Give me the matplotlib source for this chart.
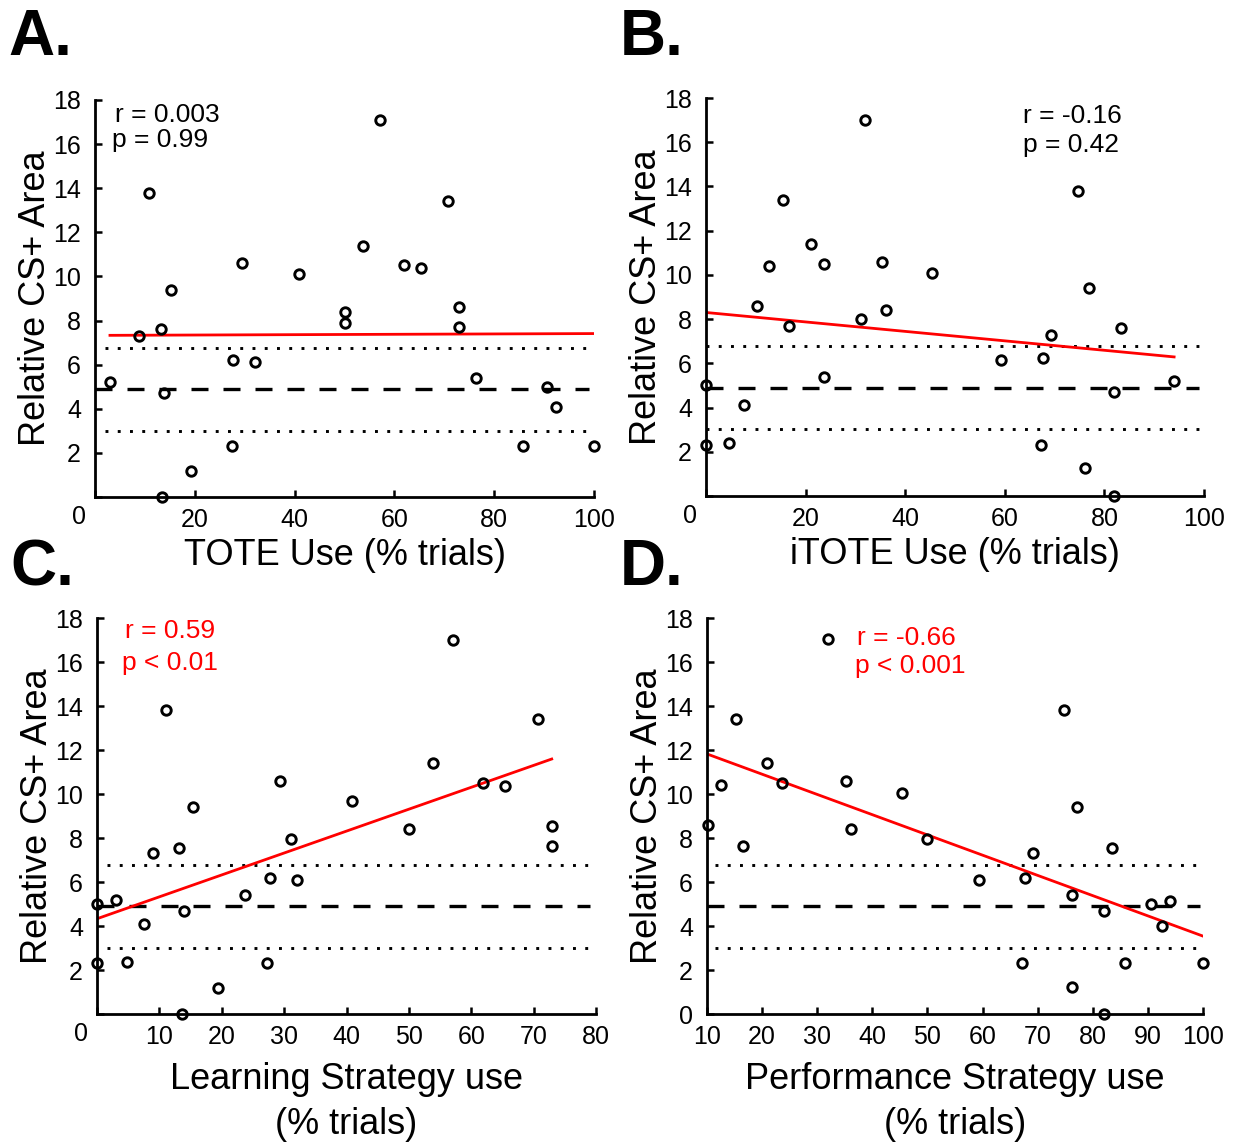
import matplotlib
matplotlib.use('Agg')
import matplotlib.pyplot as plt
import numpy as np

plt.rcParams['font.family'] = ['Liberation Sans', 'DejaVu Sans']

# A: TOTE use
tote_x = [3.0, 8.9, 10.9, 13.2, 13.8, 13.5, 15.3, 19.3, 27.4, 27.6, 29.4, 32.1, 40.9, 50.0,
          50.0, 53.8, 57.1, 61.9, 65.4, 70.7, 73.0, 73.0, 76.3, 85.8, 90.5, 92.4, 100.0]
tote_y = [5.2, 7.3, 13.8, 7.6, 4.7, 0.0, 9.4, 1.2, 2.3, 6.2, 10.6, 6.1, 10.1, 8.4,
          7.9, 11.4, 17.1, 10.5, 10.4, 13.4, 8.6, 7.7, 5.4, 2.3, 5.0, 4.1, 2.3]
tote_fit_x = [3.0, 100.0]
tote_fit_y = [7.33, 7.41]

# B: iTOTE use
itote_x = [0.0, 0.0, 4.7, 7.6, 10.2, 12.6, 15.4, 16.6, 21.1, 23.7, 23.7, 31.2, 32.0, 35.3,
           36.1, 45.4, 59.3, 67.2, 67.6, 69.2, 74.7, 76.2, 77.0, 81.9, 81.9, 83.3, 94.0]
itote_y = [5.0, 2.3, 2.4, 4.1, 8.6, 10.4, 13.4, 7.7, 11.4, 10.5, 5.4, 8.0, 17.0, 10.6,
           8.4, 10.1, 6.15, 2.3, 6.25, 7.3, 13.8, 1.25, 9.4, 0.0, 4.7, 7.6, 5.2]
itote_fit_x = [0.0, 94.0]
itote_fit_y = [8.30, 6.29]

# C: learning strategy use
learn_x = [0.0, 0.0, 3.0, 4.8, 7.6, 9.0, 11.1, 13.2, 14.0, 13.6, 15.4, 19.4, 23.8, 27.3,
           27.7, 29.4, 31.1, 32.1, 40.9, 50.0, 53.8, 57.1, 61.9, 65.4, 70.7, 72.9, 72.9]
learn_y = [5.0, 2.3, 5.2, 2.35, 4.1, 7.3, 13.8, 7.55, 4.7, 0.0, 9.4, 1.2, 5.4, 2.3,
           6.2, 10.6, 7.95, 6.1, 9.7, 8.4, 11.4, 17.0, 10.5, 10.35, 13.4, 8.55, 7.65]
learn_fit_x = [0.0, 72.9]
learn_fit_y = [4.33, 11.59]

# D: performance strategy use
perf_x = [10.2, 12.5, 15.3, 16.5, 20.8, 23.6, 32.0, 35.2, 36.1, 45.3, 49.9, 59.4, 67.2, 67.7,
          69.1, 74.7, 76.2, 76.2, 77.1, 82.0, 82.1, 83.4, 85.8, 90.5, 92.5, 94.0, 100.0]
perf_y = [8.6, 10.4, 13.4, 7.65, 11.4, 10.5, 17.05, 10.6, 8.4, 10.05, 7.95, 6.1, 2.3, 6.2,
          7.3, 13.8, 1.25, 5.4, 9.4, 0.0, 4.7, 7.55, 2.3, 5.0, 4.0, 5.15, 2.3]
perf_fit_x = [10.0, 100.0]
perf_fit_y = [11.82, 3.54]

# reference band: mean (dashed) and +/- (dotted)
ref_mean = 4.89
ref_upper = 6.77
ref_lower = 3.01

stats_r = ['r = 0.003', 'r = -0.16', 'r = 0.59', 'r = -0.66']
stats_p = ['p = 0.99', 'p = 0.42', 'p < 0.01', 'p < 0.001']
xlabels = ['TOTE Use (% trials)', 'iTOTE Use (% trials)',
           'Learning Strategy use\n(% trials)', 'Performance Strategy use\n(% trials)']
letters = ['A.', 'B.', 'C.', 'D.']

W, H = 1237, 1143
fig = plt.figure(figsize=(W / 100, H / 100), dpi=100)


def px_rect(l, t, r, b):
    return [l / W, 1 - b / H, (r - l) / W, (b - t) / H]


panels = [
    dict(rect=px_rect(95, 100, 594, 497), x=tote_x, y=tote_y, fx=tote_fit_x, fy=tote_fit_y,
         xlim=(0, 100), xticks=np.arange(0, 101, 20), dot=(2, 99), dash=(0, 99),
         rp=((0.040, 0.945), (0.034, 0.882)), col='black', y0=False, lpad=4),
    dict(rect=px_rect(706, 98, 1204, 496), x=itote_x, y=itote_y, fx=itote_fit_x, fy=itote_fit_y,
         xlim=(0, 100), xticks=np.arange(0, 101, 20), dot=(0, 99), dash=(0, 99),
         rp=((0.636, 0.937), (0.636, 0.864)), col='black', y0=False, lpad=4),
    dict(rect=px_rect(97, 618, 596, 1014), x=learn_x, y=learn_y, fx=learn_fit_x, fy=learn_fit_y,
         xlim=(0, 80), xticks=np.arange(0, 81, 10), dot=(1.6, 79), dash=(0, 79),
         rp=((0.057, 0.949), (0.051, 0.868)), col='red', y0=False, lpad=9),
    dict(rect=px_rect(707, 618, 1203, 1014), x=perf_x, y=perf_y, fx=perf_fit_x, fy=perf_fit_y,
         xlim=(10, 100), xticks=np.arange(10, 101, 10), dot=(11.5, 99), dash=(10, 99.5),
         rp=((0.303, 0.931), (0.299, 0.861)), col='red', y0=True, lpad=9),
]

tick_fs = 18
label_fs = 26

for i, p in enumerate(panels):
    ax = fig.add_axes(p['rect'])
    ax.plot(p['dot'], [ref_upper, ref_upper], color='black', lw=2.1, ls=(0, (1, 3.2)))
    ax.plot(p['dot'], [ref_lower, ref_lower], color='black', lw=2.1, ls=(0, (1, 3.2)))
    ax.plot(p['dash'], [ref_mean, ref_mean], color='black', lw=2.4, ls=(0, (5.1, 4.5)))
    ax.plot(p['fx'], p['fy'], color='red', lw=2)
    ax.plot(p['x'], p['y'], 'o', mfc='none', mec='black', ms=6.8, mew=2.1, clip_on=False, zorder=5)

    ax.set_xlim(*p['xlim'])
    ax.set_ylim(0, 18)
    ax.set_xticks(p['xticks'])
    xt = [str(int(v)) for v in p['xticks']]
    if p['xlim'][0] == 0:
        # the "0" sits a little left of the axis corner
        xt[0] = ''
        ax.annotate('0', xy=(0, 0), xycoords='axes fraction', xytext=(-16, -8),
                    textcoords='offset pixels', ha='center', va='top', fontsize=tick_fs)
    ax.set_xticklabels(xt)
    yt = np.arange(0, 19, 2)
    ax.set_yticks(yt)
    ax.set_yticklabels([str(v) if (v > 0 or p['y0']) else '' for v in yt])

    for s in ['top', 'right']:
        ax.spines[s].set_visible(False)
    for s in ['left', 'bottom']:
        ax.spines[s].set_linewidth(2)
    ax.tick_params(direction='in', length=5, width=1.8, labelsize=tick_fs)
    ax.tick_params(axis='x', pad=8)
    ax.tick_params(axis='y', pad=10)

    ax.set_xlabel(xlabels[i], fontsize=label_fs, labelpad=p['lpad'], linespacing=1.38)
    ax.set_ylabel('Relative CS+ Area', fontsize=label_fs)
    ax.yaxis.set_label_coords(-0.085, 0.5)

    (rx, ry), (px_, py) = p['rp']
    ax.text(rx, ry, stats_r[i], transform=ax.transAxes, fontsize=19, color=p['col'], va='baseline')
    ax.text(px_, py, stats_p[i], transform=ax.transAxes, fontsize=19, color=p['col'], va='baseline')

letter_pos = [(8, 55), (620, 55), (10, 585), (620, 585)]
for lt, (lx, ly) in zip(letters, letter_pos):
    fig.text(lx / W, 1 - ly / H, lt, fontsize=46, fontweight='bold', va='baseline', ha='left')

fig.savefig('out.png', dpi=100)
